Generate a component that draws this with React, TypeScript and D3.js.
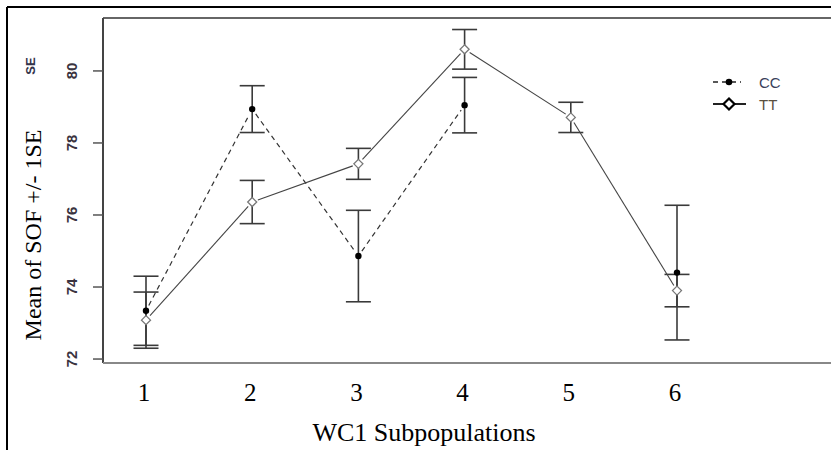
import React from 'react';
import * as d3 from 'd3';

// subpopulations on the x axis
const groups = [1, 2, 3, 4, 5, 6];
// CC genotype: mean and standard error (no value for group 5)
const ccMean = [73.34, 78.94, 74.86, 79.05, null, 74.4];
const ccSE = [0.96, 0.65, 1.27, 0.77, null, 1.87];
// TT genotype
const ttMean = [73.08, 76.36, 77.42, 80.6, 78.71, 73.9];
const ttSE = [0.78, 0.6, 0.43, 0.55, 0.42, 0.45];
const yTicks = [72, 74, 76, 78, 80];

const W = 831;
const H = 450;
const left = 103, top = 18, bottom = 363;

const x = d3.scaleLinear().domain([1, 6]).range([146, 677]);
const y = d3.scaleLinear().domain([71.89, 81.47]).range([bottom, top]);

const GAP = 6;

// R's type="b": segments stop short of the points
function segments(means: (number | null)[]) {
  const out: { x1: number; y1: number; x2: number; y2: number }[] = [];
  for (let i = 0; i < means.length - 1; i++) {
    const a = means[i], b = means[i + 1];
    if (a == null || b == null) continue;
    const x1 = x(groups[i]), y1 = y(a), x2 = x(groups[i + 1]), y2 = y(b);
    const len = Math.hypot(x2 - x1, y2 - y1);
    const ux = (x2 - x1) / len, uy = (y2 - y1) / len;
    out.push({ x1: x1 + ux * GAP, y1: y1 + uy * GAP, x2: x2 - ux * GAP, y2: y2 - uy * GAP });
  }
  return out;
}

function ErrorBars({ means, ses }: { means: (number | null)[]; ses: (number | null)[] }) {
  return (
    <g stroke="#3a3a3a" strokeWidth={1.6}>
      {means.map((m, i) => {
        if (m == null || ses[i] == null) return null;
        const cx = x(groups[i]);
        const hi = y(m + (ses[i] as number));
        const lo = y(m - (ses[i] as number));
        return (
          <g key={i}>
            <line x1={cx} x2={cx} y1={hi} y2={lo} />
            <line x1={cx - 12.5} x2={cx + 12.5} y1={hi} y2={hi} />
            <line x1={cx - 12.5} x2={cx + 12.5} y1={lo} y2={lo} />
          </g>
        );
      })}
    </g>
  );
}

const diamond = (cx: number, cy: number, r: number) =>
  `M${cx},${cy - r}L${cx + r},${cy}L${cx},${cy + r}L${cx - r},${cy}Z`;

export default function App() {
  const serif = '"Liberation Serif", "Times New Roman", serif';
  const sans = '"Liberation Sans", Arial, sans-serif';
  return (
    <svg width={W} height={H} style={{ position: 'absolute', left: 0, top: 0, background: '#fff' }}>
      <rect width={W} height={H} fill="#fff" />
      {/* outer frame */}
      <line x1={7} x2={W} y1={7} y2={7} stroke="#000" strokeWidth={2} />
      <line x1={7} x2={7} y1={7} y2={H} stroke="#000" strokeWidth={2} />

      {/* plot box */}
      <line x1={left} x2={W} y1={top} y2={top} stroke="#666" strokeWidth={2} />
      <line x1={left} x2={left} y1={top} y2={bottom} stroke="#444" strokeWidth={2} />
      <line x1={left} x2={W} y1={bottom} y2={bottom} stroke="#888" strokeWidth={2} />

      {/* y ticks */}
      {yTicks.map(t => (
        <g key={t}>
          <line x1={left - 10} x2={left} y1={y(t)} y2={y(t)} stroke="#555" strokeWidth={1.5} />
          <text
            transform={`translate(${77},${y(t)}) rotate(-90)`}
            textAnchor="middle"
            fontFamily={sans}
            fontSize={15}
            fontWeight={600}
            fill="#3a3340"
          >
            {t}
          </text>
        </g>
      ))}
      <text transform="translate(35,66) rotate(-90)" textAnchor="middle" fontFamily={sans} fontSize={13} fontWeight={600} fill="#33334a">
        SE
      </text>
      <text transform="translate(41,235) rotate(-90)" textAnchor="middle" fontFamily={serif} fontSize={24} fill="#000">
        Mean of SOF +/- 1SE
      </text>

      {/* x tick labels */}
      {groups.map(g => (
        <text key={g} x={x(g) - 2} y={401} textAnchor="middle" fontFamily={serif} fontSize={25} fill="#000">
          {g}
        </text>
      ))}
      <text x={424} y={441} textAnchor="middle" fontFamily={serif} fontSize={26} fill="#000">
        WC1 Subpopulations
      </text>

      {/* error bars */}
      <ErrorBars means={ttMean} ses={ttSE} />
      <ErrorBars means={ccMean} ses={ccSE} />

      {/* lines */}
      {segments(ccMean).map((s, i) => (
        <line key={'c' + i} {...s} stroke="#333" strokeWidth={1.2} strokeDasharray="5,4" />
      ))}
      {segments(ttMean).map((s, i) => (
        <line key={'t' + i} {...s} stroke="#444" strokeWidth={1.1} />
      ))}

      {/* points */}
      {ccMean.map((m, i) =>
        m == null ? null : <circle key={'cp' + i} cx={x(groups[i])} cy={y(m)} r={3.2} fill="#000" />
      )}
      {ttMean.map((m, i) => (
        <path key={'tp' + i} d={diamond(x(groups[i]), y(m), 4.5)} fill="#fff" stroke="#777" strokeWidth={1.3} />
      ))}

      {/* legend */}
      <g>
        <line x1={713} x2={741} y1={82} y2={82} stroke="#222" strokeWidth={1.6} strokeDasharray="5,4" />
        <circle cx={729} cy={82} r={3.3} fill="#000" />
        <text x={759} y={88} fontFamily={sans} fontSize={15} fill="#3a3f5a">CC</text>
        <line x1={713} x2={746} y1={104} y2={104} stroke="#222" strokeWidth={1.8} />
        <path d={diamond(729, 104, 5.5)} fill="#fff" stroke="#000" strokeWidth={2.2} />
        <text x={759} y={110} fontFamily={sans} fontSize={15} fill="#5a5040">TT</text>
      </g>
    </svg>
  );
}
